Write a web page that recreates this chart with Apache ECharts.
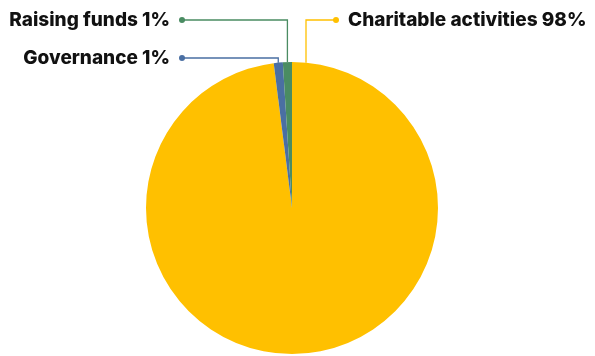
<!DOCTYPE html>
<html>
<head>
<meta charset="utf-8">
<script src="https://cdn.jsdelivr.net/npm/echarts@6/dist/echarts.min.js"></script>
<style>
  html, body { margin: 0; padding: 0; background: #fff; }
  #chart { width: 595px; height: 356px; }
</style>
</head>
<body>
<div id="chart"></div>
<script>
// 支出构成
const categories = ['Charitable activities', 'Governance', 'Raising funds']
const values = [98, 1, 1]
const colors = ['#FFC000', '#4A6FA3', '#4A8C62']

// label anchor (label y, dot x) for each slice
const labelSpots = [
  { y: 20, dotX: 336, side: 'right' },
  { y: 58, dotX: 182, side: 'left' },
  { y: 20, dotX: 182, side: 'left' }
]

const chart = echarts.init(document.getElementById('chart'))

const dotStyle = (c) => ({ width: 6, height: 6, borderRadius: 3, backgroundColor: c })
const rich = {
  t: { fontFamily: 'Inter', fontWeight: 800, fontSize: 19, color: '#111', lineHeight: 22 },
  gap: { width: 9 }
}
colors.forEach((c, i) => { rich['d' + i] = dotStyle(c) })

const option = {
  animation: false,
  series: [{
    type: 'pie',
    center: [292, 208],
    radius: 146,
    startAngle: 90,
    clockwise: true,
    avoidLabelOverlap: false,
    data: categories.map((name, i) => ({
      name: name,
      value: values[i],
      itemStyle: { color: colors[i] },
      labelLine: { lineStyle: { color: colors[i] } }
    })),
    itemStyle: { borderWidth: 0 },
    label: {
      show: true,
      position: 'outside',
      rich: rich,
      formatter: (p) => {
        const txt = '{t|' + p.name + ' ' + Math.round(p.percent) + '%}'
        if (labelSpots[p.dataIndex].side === 'right') {
          return '{d' + p.dataIndex + '|}{gap|}' + txt
        }
        return txt + '{gap|}{d' + p.dataIndex + '|}'
      }
    },
    labelLine: { show: true, length: 10, length2: 10, lineStyle: { width: 1.3 } },
    labelLayout: (params) => {
      const i = params.dataIndex
      const spot = labelSpots[i]
      const lay = chart.getModel().getSeriesByIndex(0).getData().getItemLayout(i)
      let x0
      if (i === 0) {
        x0 = lay.cx + 14
      } else {
        x0 = params.labelLinePoints[0][0]
      }
      const y0 = lay.cy - Math.sqrt(lay.r * lay.r - (x0 - lay.cx) * (x0 - lay.cx))
      return {
        x: spot.side === 'right' ? spot.dotX - 3 : spot.dotX + 3,
        y: spot.y,
        align: spot.side === 'right' ? 'left' : 'right',
        verticalAlign: 'middle',
        labelLinePoints: [[x0, y0], [x0, spot.y], [spot.dotX, spot.y]]
      }
    }
  }]
}
chart.setOption(option)
</script>
</body>
</html>
